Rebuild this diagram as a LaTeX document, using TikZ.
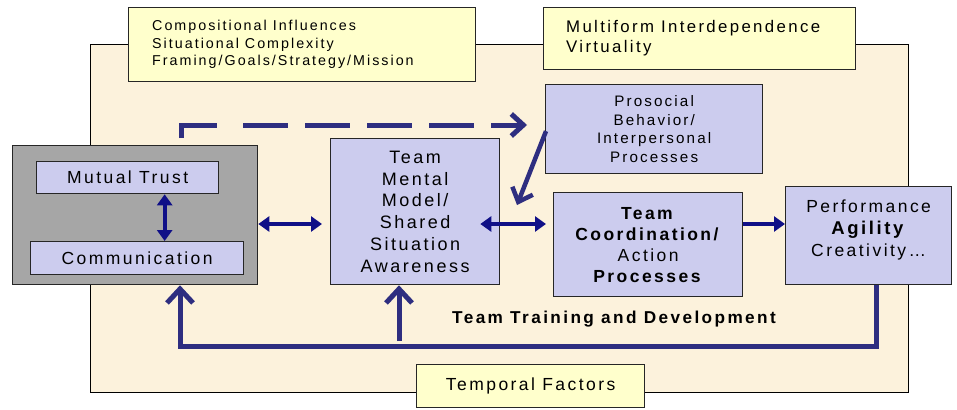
\documentclass[tikz,border=0pt]{standalone}
\usepackage{fontspec}
\setmainfont{Liberation Sans}[LetterSpace=14]
\usetikzlibrary{arrows.meta}
\definecolor{beige}{HTML}{FCF2DC}
\definecolor{lav}{HTML}{CCCCEE}
\definecolor{yel}{HTML}{FFFFCC}
\definecolor{grayfill}{HTML}{A6A6A6}
\definecolor{navyA}{RGB}{16,16,135}
\definecolor{navyB}{RGB}{46,46,128}
\begin{document}
\begin{tikzpicture}[x=1pt,y=-1pt,
  box/.style={draw=black!85, line width=1.3pt, fill=lav, inner sep=0pt, anchor=north west, align=center},
  ybox/.style={box, fill=yel},
  txt/.style={font={\fontsize{17.5}{21}\selectfont}},
  dbl/.style={line width=4pt, draw=navyA, arrows={Triangle[width=15pt,length=11pt]-Triangle[width=15pt,length=11pt]}},
  sgl/.style={line width=4pt, draw=navyA, arrows={-Triangle[width=15pt,length=11pt]}},
  fb/.style={line width=5pt, draw=navyB},
  barb/.style={arrows={-Straight Barb[width=26pt,length=14pt]}},
  sbarb/.style={arrows={-Straight Barb[width=22pt,length=12pt]}}
]
\useasboundingbox (0,0) rectangle (957,409);
% frame
\node[box, fill=beige, draw=black, line width=1.2pt, minimum width=818pt, minimum height=348pt] (frame) at (90,44) {};
% yellow boxes
\node[ybox, minimum width=347pt, minimum height=74pt] (ytl) at (128,7) {};
\node[anchor=west, align=left, inner sep=0pt, font={\fontsize{14.3}{17.5}\selectfont}] (ytlt) at (152,44.5)
  {Compositional Influences\\Situational Complexity\\Framing/Goals/Strategy/Mission};
\node[ybox, minimum width=312pt, minimum height=62pt] (ytr) at (543,7) {};
\node[anchor=west, align=left, inner sep=0pt, font={\fontsize{16.8}{20}\selectfont}] (ytrt) at (566,38)
  {Multiform Interdependence\\Virtuality};
\node[ybox, minimum width=228pt, minimum height=43pt, txt] (temp) at (416,364) {Temporal Factors};
% gray box
\node[box, fill=grayfill, minimum width=245pt, minimum height=139pt] (gray) at (12,145) {};
\node[box, minimum width=182pt, minimum height=32pt, txt] (mt) at (36,161) {Mutual Trust};
\node[box, minimum width=213pt, minimum height=33pt, txt] (comm) at (30,241) {Communication};
% main boxes
\node[box, minimum width=169pt, minimum height=146pt, font={\fontsize{18}{21.8}\selectfont}] (tmm) at (330,138)
  {Team\\Mental\\Model/\\Shared\\Situation\\Awareness};
\node[box, minimum width=217pt, minimum height=89pt, font={\fontsize{15.2}{18.8}\selectfont}] (pro) at (545,84)
  {Prosocial\\Behavior/\\Interpersonal\\Processes};
\node[box, minimum width=189pt, minimum height=104pt, font={\fontsize{17.5}{21}\selectfont}] (tc) at (553,192)
  {\textbf{Team}\\\textbf{Coordination/}\\Action\\\textbf{Processes}};
\node[box, minimum width=166pt, minimum height=98pt] (perf) at (785,186) {};
\node[align=center, inner sep=0pt, font={\fontsize{17.5}{22}\selectfont}] (perft) at ([yshift=6pt]perf.center)
  {Performance\\{\fontsize{18.5}{22}\selectfont\textbf{Agility}}\\Creativity\ldots};
% label
\node[font={\fontsize{17.2}{20}\selectfont\bfseries}, inner sep=0pt] (ttd) at (614,319) {Team Training and Development};
% coordinates
\coordinate (ay) at (0,224);
\coordinate (fbl) at (180,346);
\coordinate (br) at (399,341);
\coordinate (ds) at (181,138);
\coordinate (dk) at (217,125);
\coordinate (dd) at (243,125);
\coordinate (dt) at (527,125);
\coordinate (dg) at (517,205);
% arrows
\draw[dbl] ([xshift=37pt]mt.south) -- ([xshift=37pt]mt.south |- comm.north);
\draw[dbl] (gray.east |- ay) -- ([xshift=-8pt]tmm.west |- ay);
\draw[dbl] ([xshift=-20pt]tmm.east |- ay) -- ([xshift=-7pt]tc.west |- ay);
\draw[sgl] (tc.east |- ay) -- (perf.west |- ay);
\draw[fb, barb] ([xshift=8pt]perf.south) |- (fbl) -- (fbl |- gray.south);
\draw[fb, barb] (br) -- (br |- tmm.south);
\draw[fb] (ds) |- (dk);
\draw[fb, sbarb, dash pattern=on 45pt off 17pt] (dd) -- (dt);
\draw[fb, line width=4.5pt, sbarb] ([xshift=1pt,yshift=-2pt]pro.west) -- (dg);
\end{tikzpicture}
\end{document}
